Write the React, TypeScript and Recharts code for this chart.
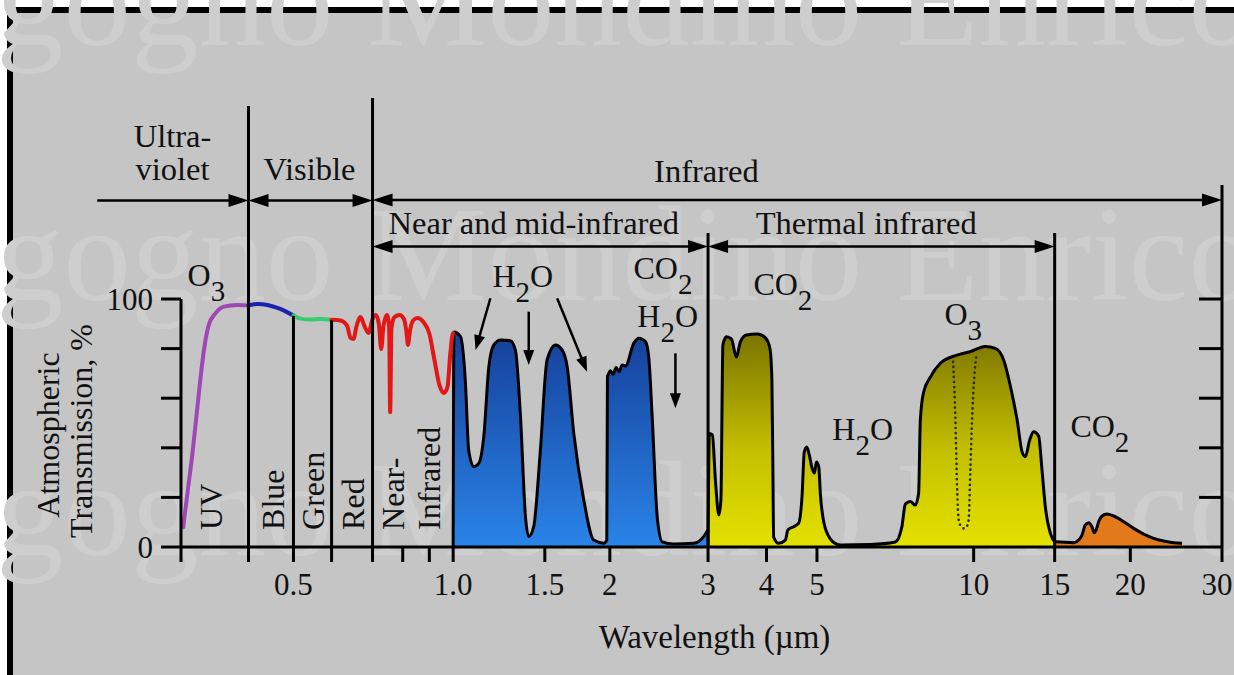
import React from 'react';
import { ComposedChart, Line, Area, XAxis, YAxis, ReferenceLine, ReferenceDot } from 'recharts';

const SERIF = '"Liberation Serif", "DejaVu Serif", serif';
const INK = '#111';

// ---------- curve values: [wavelength (µm), transmission (%)] ----------
const UV_CURVE = [
  [0.303, 8], [0.3088, 22], [0.3157, 38], [0.3213, 53], [0.327, 68], [0.3329, 81],
  [0.3392, 89.5], [0.3494, 94.2], [0.3626, 96.9], [0.3847, 97.6], [0.4044, 97.4],
];
const BLUE_CURVE = [
  [0.4044, 97.4], [0.4207, 98.0], [0.4397, 97.6], [0.4597, 96.4], [0.4765, 95.0], [0.4934, 93.3],
];
const GREEN_CURVE = [
  [0.4934, 93.3], [0.5089, 92.1], [0.532, 91.7], [0.5561, 91.9], [0.584, 91.5],
];
const RED_CURVE = [
  [0.584, 91.6], [0.6074, 91.3], [0.6258, 89.1], [0.635, 84.3], [0.6435, 83.9], [0.6522, 89.1],
  [0.6637, 92.7], [0.6755, 89.1], [0.6876, 86.3], [0.6998, 91.9], [0.7107, 93.5], [0.7203, 89.5],
  [0.7273, 79.8], [0.7347, 89.1], [0.7461, 93.5], [0.7535, 88.3], [0.7568, 54.4], [0.7611, 88.3],
  [0.7713, 92.7], [0.7886, 93.5], [0.8044, 91.9], [0.8133, 86.7], [0.8188, 81.5], [0.826, 87.1],
  [0.8389, 91.5], [0.8539, 92.3], [0.8768, 90.7], [0.9004, 85.9], [0.9206, 75.4], [0.9412, 65.3],
  [0.9601, 62.1], [0.9752, 64.5], [0.9881, 78.6], [0.9969, 85.5], [1.0, 86.2],
];
const WINDOW_NEAR_IR = [
  [1.0, 0], [1.0035, 86.7], [1.033, 84.8], [1.056, 66.0], [1.071, 39.1], [1.095, 32.4], [1.12, 33.7],
  [1.145, 44.5], [1.171, 72.7], [1.197, 81.5], [1.233, 83.5], [1.288, 83.2], [1.317, 79.4],
  [1.347, 52.5], [1.377, 12.2], [1.397, 4.2], [1.428, 8.2], [1.471, 39.1], [1.515, 75.4],
  [1.573, 81.5], [1.62, 79.4], [1.656, 72.7], [1.705, 45.8], [1.782, 19.0], [1.862, 2.8],
  [1.947, 1.5], [1.973, 2.8], [1.979, 68.7], [1.985, 69.4], [2.005, 71.1], [2.029, 69.6],
  [2.056, 72.4], [2.084, 70.7], [2.112, 73.4], [2.143, 73.0], [2.223, 82.1], [2.273, 84.2],
  [2.341, 82.8], [2.375, 76.7], [2.412, 52.5], [2.466, 12.2], [2.521, 2.1], [2.653, 1.2],
  [2.899, 1.5], [3.029, 4.2], [3.088, 6.9],
];
const WINDOW_THERMAL = [
  [3.088, 0.8], [3.106, 45.8], [3.148, 45.2], [3.19, 27.0], [3.24, 12.9], [3.269, 19.0],
  [3.298, 81.5], [3.35, 84.8], [3.424, 83.9], [3.501, 76.6], [3.563, 82.7], [3.659, 85.5],
  [3.841, 85.9], [3.98, 84.3], [4.06, 80.2], [4.096, 67.3], [4.114, 31.0], [4.128, 4.0],
  [4.221, 1.5], [4.348, 2.8], [4.396, 6.9], [4.51, 8.2], [4.611, 9.6], [4.68, 20.3], [4.727, 38.3],
  [4.78, 40.3], [4.833, 37.1], [4.891, 31.9], [4.943, 29.8], [4.987, 34.3], [5.039, 32.4],
  [5.077, 21.0], [5.152, 10.1], [5.306, 3.2], [5.472, 1.0], [5.546, 0.8], [6.334, 1.0],
  [7.073, 2.0], [7.279, 8.1], [7.392, 17.3], [7.557, 18.3], [7.726, 16.9], [7.839, 21.7],
  [7.899, 51.2], [8.016, 62.5], [8.256, 68.5], [8.63, 74.1], [9.292, 77.4], [9.855, 78.8],
  [10.53, 80.8], [11.01, 80.1], [11.42, 75.4], [11.77, 64.6], [12.12, 51.2], [12.39, 38.3],
  [12.57, 36.4], [12.81, 43.1], [13.04, 46.5], [13.33, 44.8], [13.53, 31.0], [13.73, 16.3],
  [14.04, 5.5], [14.31, 2.1],
];
const WINDOW_FAR_IR = [
  [14.31, 2.1], [14.67, 2.0], [15.56, 1.7], [15.91, 2.8], [16.15, 4.8], [16.39, 8.9], [16.63, 9.8],
  [16.88, 8.1], [17.05, 5.8], [17.21, 7.1], [17.38, 10.2], [17.65, 12.5], [18.04, 13.3],
  [18.58, 12.5], [19.42, 10.2], [20.3, 7.5], [21.22, 5.2], [22.17, 3.5], [23.17, 2.4],
  [24.22, 1.7], [25.14, 1.5],
];
const O3_ABSORPTION = [
  [9.129, 74.7], [9.225, 51.2], [9.292, 24.3], [9.358, 10.9], [9.471, 8.1], [9.568, 7.5],
  [9.683, 8.1], [9.781, 10.9], [9.855, 31], [9.929, 51.2], [10.08, 74.1], [10.15, 78.1],
];

// ---------- axes ----------
const X_TICKS = [0.3, 0.4044, 0.4934, 0.584, 0.7, 0.8, 0.9, 1.0, 1.5, 2, 3.088, 4, 5, 10, 14.31, 20, 30];
const X_TICK_LABELS = ['', '', '0.5', '', '', '', '', '1.0', '1.5', '2', '3', '4', '5', '10', '15', '20', '30'];
const Y_TICKS = [0, 20, 40, 60, 80, 100];
const Y_TICK_LABELS = ['0', '', '', '', '', '100'];
const RIGHT_TICKS = [20, 40, 60, 80, 100];

// ---------- annotations (wavelength, transmission) ----------
const BAND_LINES = [
  [0.4044, 177.8], [0.4934, 93.2], [0.584, 91.4], [0.7, 181], [3.088, 126.6], [14.31, 126.6], [30, 146],
];
// [from, to, level, arrow at start, arrow at end]
const SPAN_ARROWS: [number, number, number, boolean, boolean][] = [
  [0.2071, 0.4044, 139.7, false, true],
  [0.4044, 0.7, 139.7, true, true],
  [0.7, 30, 139.9, true, true],
  [0.7, 3.088, 121.2, true, true],
  [3.088, 14.31, 121.2, true, true],
];
const SPAN_LABELS: [string, number, number][] = [
  ['Ultra-', 0.2889, 161.3],
  ['violet', 0.2889, 148.0],
  ['Visible', 0.5297, 148.0],
  ['Infrared', 3.066, 147.2],
  ['Near and mid-infrared', 1.429, 126.2],
  ['Thermal infrared', 6.218, 126.2],
];
const BAND_NAMES: [string, number][] = [
  ['UV', 0.3599], ['Blue', 0.4727], ['Green', 0.5642], ['Red', 0.6735], ['Near-', 0.8037], ['Infrared', 0.9454],
];
const BAND_NAME_LEVEL = 6.9;
// [text, subscript, text after, wavelength, transmission]
const GASES: [string, string, string, number, number][] = [
  ['O', '3', '', 0.3088, 105.2],
  ['H', '2', 'O', 1.19, 104.8],
  ['CO', '2', '', 2.22, 108.1],
  ['H', '2', 'O', 2.259, 88.7],
  ['CO', '2', '', 3.774, 101.6],
  ['O', '3', '', 8.785, 89.5],
  ['H', '2', 'O', 5.35, 43.1],
  ['CO', '2', '', 15.34, 44.4],
];
const GAS_ARROWS = [
  [1.179, 100.3, 1.104, 79.4],
  [1.397, 94.9, 1.397, 73.4],
  [1.584, 100.3, 1.808, 70.7],
  [2.673, 78.1, 2.673, 55.9],
];

const pts = (a: number[][]) => a.map(([w, t]) => ({ w, t }));

function makeArrow(headStart: boolean, headEnd: boolean, len: number, half: number, sw: number) {
  return (p: any) => {
    const { x1, y1, x2, y2 } = p;
    if ([x1, y1, x2, y2].some((v) => typeof v !== 'number' || isNaN(v))) return <g />;
    const dx = x2 - x1;
    const dy = y2 - y1;
    const L = Math.hypot(dx, dy) || 1;
    const ux = dx / L;
    const uy = dy / L;
    const nx = -uy;
    const ny = ux;
    const tri = (tx: number, ty: number, ddx: number, ddy: number) => {
      const bx = tx - ddx * len;
      const by = ty - ddy * len;
      return `${tx},${ty} ${bx + nx * half},${by + ny * half} ${bx - nx * half},${by - ny * half}`;
    };
    const sx = headStart ? x1 + ux * len * 0.6 : x1;
    const sy = headStart ? y1 + uy * len * 0.6 : y1;
    const ex = headEnd ? x2 - ux * len * 0.6 : x2;
    const ey = headEnd ? y2 - uy * len * 0.6 : y2;
    return (
      <g>
        <line x1={sx} y1={sy} x2={ex} y2={ey} stroke="#000" strokeWidth={sw} />
        {headStart && <polygon points={tri(x1, y1, -ux, -uy)} fill="#000" />}
        {headEnd && <polygon points={tri(x2, y2, ux, uy)} fill="#000" />}
      </g>
    );
  };
}

// inward-pointing tick on the right frame, drawn at the right end of a horizontal reference line
const rightTickShape = (p: any) => {
  const { x2, y1 } = p;
  if (typeof x2 !== 'number' || typeof y1 !== 'number') return <g />;
  return <line x1={x2 - 23} x2={x2} y1={y1} y2={y1} stroke="#000" strokeWidth={3} />;
};

const XTick = (p: any) => {
  const v = p.payload?.value;
  const label = X_TICK_LABELS[X_TICKS.indexOf(v)] ?? '';
  if (!label) return <g />;
  const shift = label === '30' ? -5 : 0;
  return (
    <text x={p.x + shift} y={p.y} dy="0.71em" textAnchor="middle" fontFamily={SERIF} fontSize={31} fill={INK}>
      {label}
    </text>
  );
};

const YTitle = (p: any) => {
  const vb = p.viewBox || { x: 31, y: 299, width: 150, height: 248 };
  const cy = vb.y + vb.height / 2;
  return (
    <g fontFamily={SERIF} fontSize={32} fill={INK}>
      <text x={vb.x + 28} y={cy + 12} textAnchor="middle" transform={`rotate(-90 ${vb.x + 28} ${cy + 12})`}>
        Atmospheric
      </text>
      <text x={vb.x + 61} y={cy + 8} textAnchor="middle" transform={`rotate(-90 ${vb.x + 61} ${cy + 8})`}>
        Transmission, %
      </text>
    </g>
  );
};

const XTitle = (p: any) => {
  const vb = p.viewBox || { x: 181, y: 547, width: 1041, height: 128 };
  return (
    <text x={vb.x + vb.width / 2 + 13} y={vb.y + 101} textAnchor="middle" fontFamily={SERIF} fontSize={33} fill={INK}>
      Wavelength (µm)
    </text>
  );
};

export default function App() {
  const fmtY = (v: number) => Y_TICK_LABELS[Y_TICKS.indexOf(v)] ?? '';
  return (
    <div style={{ position: 'absolute', left: 0, top: 0, width: 1234, height: 675, background: '#fff', overflow: 'hidden' }}>
      <div
        style={{
          position: 'absolute', left: 7, top: 7, width: 1260, height: 700, background: '#c5c5c5',
          borderLeft: '6px solid #000', borderTop: '6px solid #000',
        }}
      />
      <svg width={1234} height={675} style={{ position: 'absolute', left: 0, top: 0 }}>
        {[45, 300, 555].map((y) => (
          <text key={y} x={-4} y={y} fontFamily={SERIF} fontSize={135} fill="#cecece">
            gogno Mondino Enrico
          </text>
        ))}
      </svg>
      <div style={{ position: 'absolute', left: 0, top: 0 }}>
        <ComposedChart width={1234} height={675} margin={{ top: 299, right: 12, bottom: 0, left: 31 }}>
          <defs>
            <linearGradient id="gradBlue" x1="0" y1="0" x2="0" y2="1">
              <stop offset="0%" stopColor="#15409a" />
              <stop offset="100%" stopColor="#2a84e8" />
            </linearGradient>
            <linearGradient id="gradYellow" x1="0" y1="0" x2="0" y2="1">
              <stop offset="0%" stopColor="#7a7400" />
              <stop offset="55%" stopColor="#c4bf00" />
              <stop offset="100%" stopColor="#e4e200" />
            </linearGradient>
          </defs>
          <XAxis
            dataKey="w"
            type="number"
            scale="log"
            domain={[0.3, 30]}
            allowDataOverflow
            ticks={X_TICKS}
            interval={0}
            tickSize={15}
            tickMargin={11}
            height={128}
            axisLine={{ stroke: '#000', strokeWidth: 3 }}
            tickLine={{ stroke: '#000', strokeWidth: 3 }}
            tick={XTick}
            label={XTitle}
          />
          <YAxis
            type="number"
            domain={[0, 100]}
            ticks={Y_TICKS}
            interval={0}
            tickFormatter={fmtY}
            width={150}
            tickSize={20}
            tickMargin={8}
            axisLine={{ stroke: '#000', strokeWidth: 3 }}
            tickLine={{ stroke: '#000', strokeWidth: 3 }}
            tick={{ fill: INK, fontSize: 31, fontFamily: SERIF }}
            label={YTitle}
          />

          <Area data={pts(WINDOW_NEAR_IR)} dataKey="t" type="monotone" fill="url(#gradBlue)" fillOpacity={1}
            stroke="#000" strokeWidth={3} isAnimationActive={false} dot={false} activeDot={false} />
          <Area data={pts(WINDOW_THERMAL)} dataKey="t" type="monotone" fill="url(#gradYellow)" fillOpacity={1}
            stroke="#000" strokeWidth={3} isAnimationActive={false} dot={false} activeDot={false} />
          <Area data={pts(WINDOW_FAR_IR)} dataKey="t" type="monotone" fill="#e27a1c" fillOpacity={1}
            stroke="#000" strokeWidth={3} isAnimationActive={false} dot={false} activeDot={false} />
          <Line data={pts(O3_ABSORPTION)} dataKey="t" type="monotone" stroke="#2a2a10" strokeWidth={2.6}
            strokeDasharray="0.1 5" strokeLinecap="round" isAnimationActive={false} dot={false} activeDot={false} />
          <Line data={pts(UV_CURVE)} dataKey="t" type="monotone" stroke="#a047b5" strokeWidth={4}
            strokeLinecap="round" isAnimationActive={false} dot={false} activeDot={false} />
          <Line data={pts(BLUE_CURVE)} dataKey="t" type="monotone" stroke="#1c22ad" strokeWidth={4}
            strokeLinecap="round" isAnimationActive={false} dot={false} activeDot={false} />
          <Line data={pts(GREEN_CURVE)} dataKey="t" type="monotone" stroke="#38cc70" strokeWidth={4}
            strokeLinecap="round" isAnimationActive={false} dot={false} activeDot={false} />
          <Line data={pts(RED_CURVE)} dataKey="t" type="monotone" stroke="#e41616" strokeWidth={4}
            strokeLinecap="round" isAnimationActive={false} dot={false} activeDot={false} />

          {RIGHT_TICKS.map((v) => (
            <ReferenceLine key={`rt${v}`} y={v} ifOverflow="visible" shape={rightTickShape} />
          ))}
          {BAND_LINES.map(([w, top], i) => (
            <ReferenceLine key={`b${i}`} segment={[{ x: w, y: 0 }, { x: w, y: top }]} stroke="#000"
              strokeWidth={3} ifOverflow="visible" />
          ))}
          {SPAN_ARROWS.map(([a, b, lvl, hs, he], i) => (
            <ReferenceLine key={`s${i}`} segment={[{ x: a, y: lvl }, { x: b, y: lvl }]} ifOverflow="visible"
              shape={makeArrow(hs, he, 20, 6.5, 2.5)} />
          ))}
          {GAS_ARROWS.map(([w1, t1, w2, t2], i) => (
            <ReferenceLine key={`g${i}`} segment={[{ x: w1, y: t1 }, { x: w2, y: t2 }]} ifOverflow="visible"
              shape={makeArrow(false, true, 15, 5.5, 2.5)} />
          ))}
          {SPAN_LABELS.map(([txt, w, t], i) => (
            <ReferenceDot key={`l${i}`} x={w} y={t} r={0} ifOverflow="visible"
              shape={(p: any) => (
                <text x={p.cx} y={p.cy} textAnchor="middle" fontFamily={SERIF} fontSize={32.5} fill={INK}>{txt}</text>
              )} />
          ))}
          {BAND_NAMES.map(([txt, w], i) => (
            <ReferenceDot key={`n${i}`} x={w} y={BAND_NAME_LEVEL} r={0} ifOverflow="visible"
              shape={(p: any) => (
                <text x={p.cx} y={p.cy} textAnchor="start" fontFamily={SERIF} fontSize={32} fill={INK}
                  transform={`rotate(-90 ${p.cx} ${p.cy})`}>{txt}</text>
              )} />
          ))}
          {GASES.map(([a, sub, b, w, t], i) => (
            <ReferenceDot key={`m${i}`} x={w} y={t} r={0} ifOverflow="visible"
              shape={(p: any) => (
                <text x={p.cx} y={p.cy} fontFamily={SERIF} fontSize={32} fill={INK}>
                  {a}
                  <tspan dy={15} fontSize={29}>{sub}</tspan>
                  {b ? <tspan dy={-15} fontSize={32}>{b}</tspan> : null}
                </text>
              )} />
          ))}
        </ComposedChart>
      </div>
    </div>
  );
}
